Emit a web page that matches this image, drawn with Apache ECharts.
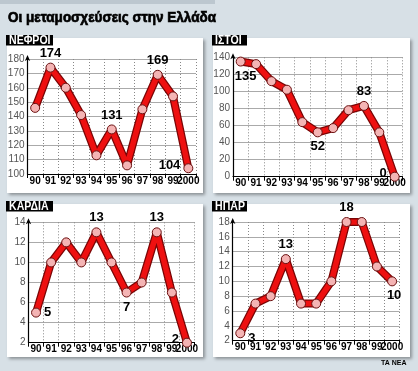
<!DOCTYPE html>
<html><head><meta charset="utf-8">
<script src="https://cdn.jsdelivr.net/npm/echarts@6/dist/echarts.min.js"></script>
<style>html,body{margin:0;padding:0;background:#d7e0e6}#c{width:418px;height:371px}</style>
</head><body><div id="c"></div>
<script>
var years = ['90','91','92','93','94','95','96','97','98','99','2000'];
var titles = ['ΝΕΦΡΟΙ','ΙΣΤΟΙ','ΚΑΡΔΙΑ','ΗΠΑΡ'];
var kidney = [146,174,160,141,113,131,106,145,169,154,104];
var tissue = [135,132,112,102,64,52,57,78,83,52,0];
var heart  = [5,10,12,10,13,10,7,8,13,7,2];
var liver  = [3,7,8,13,7,7,10,18,18,12,10];
var yMin = [100,0,2,2];
var yMax = [180,140,14,18];
var yStep = [10,20,2,2];

var series = [kidney, tissue, heart, liver];
// which points carry a value label, and where
var labelPos = [
  {1:['top',[0,0]],5:['top',[0,0]],8:['top',[0,0]],10:['left',[0,-3]]},
  {0:['bottom',[5,0]],5:['bottom',[0,0]],8:['top',[0,0]],10:['left',[0,-3]]},
  {0:['right',[0,0]],4:['top',[0,0]],6:['bottom',[0,0]],8:['top',[0,0]],10:['left',[0,-3]]},
  {0:['right',[0,5]],3:['top',[0,0]],7:['top',[0,0]],10:['bottom',[2,0]]}
];
var grids = [
  {left:27.5, top:59, width:168.5, height:115},
  {left:233, top:57.3, width:169.4, height:119.4},
  {left:28.5, top:222.3, width:166, height:120.4},
  {left:232.7, top:222, width:167, height:118.7}
];
var panels = [
  {x:7,y:38,w:196,h:155},
  {x:213,y:38,w:197,h:155},
  {x:7,y:204,w:196,h:153},
  {x:213,y:204,w:197,h:153}
];
var tabW = [47,35,47,35];
var font = '"Liberation Sans",Arial,sans-serif';

var option = {
  backgroundColor:'#d7e0e6',
  animation:false,
  grid:[], xAxis:[], yAxis:[], series:[], graphic:[]
};
option.graphic.push({type:'rect',shape:{x:0,y:0,width:215,height:4},style:{fill:'#bcc7cf'},z:0});
option.graphic.push({type:'text',x:8,y:18,scaleX:0.9,style:{text:'Οι μεταμοσχεύσεις στην Ελλάδα',font:'bold 15px '+font,fill:'#000',stroke:'#000',lineWidth:0.7,verticalAlign:'middle'},z:10});
option.graphic.push({type:'text',x:381,y:363,style:{text:'ΤΑ ΝΕΑ',font:'bold 7px '+font,fill:'#000',verticalAlign:'middle'},z:10});
panels.forEach(function(p,i){
  option.graphic.push({type:'rect',shape:{x:p.x,y:p.y,width:p.w,height:p.h},
    style:{fill:'#fff',shadowBlur:3,shadowOffsetX:2,shadowOffsetY:2,shadowColor:'rgba(0,0,0,0.35)'},z:-10});
  option.graphic.push({type:'rect',shape:{x:p.x-1,y:p.y-3,width:tabW[i],height:10.5},style:{fill:'#000'},z:5});
  option.graphic.push({type:'text',x:p.x+2,y:p.y+2.5,scaleX:0.88,style:{text:titles[i],font:'bold 12px '+font,fill:'#fff',verticalAlign:'middle'},z:6});
});

series.forEach(function(vals,i){
  option.grid.push(grids[i]);
  option.xAxis.push({type:'category',gridIndex:i,data:years,boundaryGap:true,
    axisLine:{lineStyle:{color:'#000',width:1.2}},
    axisTick:{show:true,length:4,inside:false,lineStyle:{color:'#000',width:1}},
    axisLabel:{color:'#000',fontFamily:font,fontSize:10,fontWeight:'bold',margin:2,interval:0},
    splitLine:{show:true,interval:0,lineStyle:{color:'#888',type:[1,2],width:1}}
  });
  option.yAxis.push({type:'value',gridIndex:i,min:yMin[i],max:yMax[i],interval:yStep[i],
    axisLine:{show:true,symbol:['none','arrow'],symbolSize:[4,6],symbolOffset:[0,4],lineStyle:{color:'#000',width:1.2}},
    axisTick:{show:false},
    axisLabel:{color:'#555',fontFamily:font,fontSize:10,margin:3},
    splitLine:{show:true,lineStyle:{color:'#aaa',width:1}}
  });
  var dataItems = vals.map(function(v,j){
    var p = labelPos[i][j];
    var it = {value:v};
    if(p){
      it.label = {show:true,position:p[0],offset:p[1],formatter:'{c}',color:'#000',fontFamily:font,fontSize:13,fontWeight:'bold',distance:3};
    }
    return it;
  });
  option.series.push({type:'line',xAxisIndex:i,yAxisIndex:i,data:vals,symbol:'none',
    lineStyle:{color:'#7a0505',width:8},z:2,silent:true});
  option.series.push({type:'line',xAxisIndex:i,yAxisIndex:i,data:dataItems,
    symbol:'circle',symbolSize:9,
    itemStyle:{color:'#f4b4b4',borderColor:'#6a1010',borderWidth:1},
    lineStyle:{color:'#ee1010',width:5.5},z:3,label:{show:false}});
});

var chart = echarts.init(document.getElementById('c'),null,{renderer:'canvas'});
chart.setOption(option);
</script></body></html>
